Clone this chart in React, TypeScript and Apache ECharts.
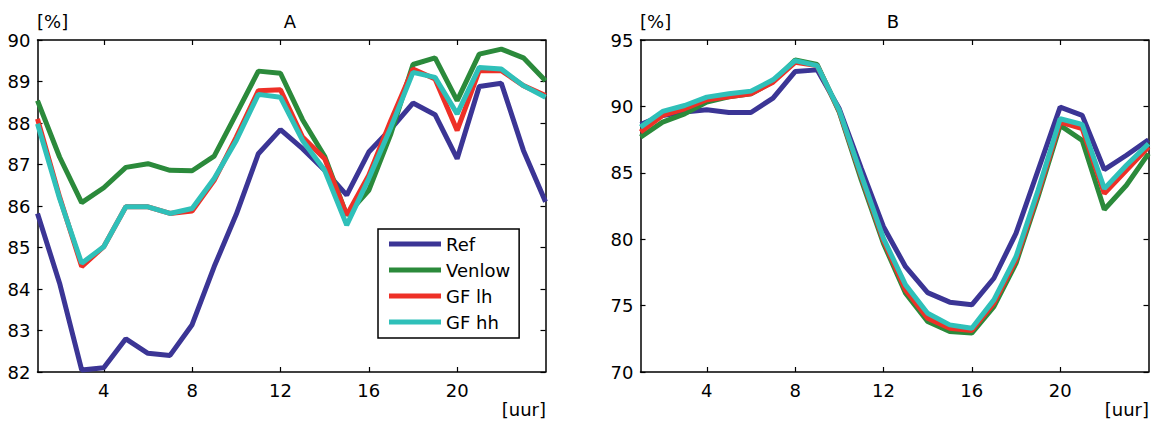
import React, { useEffect, useRef } from "react";
import * as echarts from "echarts";

// hours on the x axis
const HOURS = [1, 2, 3, 4, 5, 6, 7, 8, 9, 10, 11, 12, 13, 14, 15, 16, 17, 18, 19, 20, 21, 22, 23, 24];
const HOUR_TICKS = [4, 8, 12, 16, 20];

// panel A
const A_REF = [85.82, 84.14, 82.05, 82.1, 82.8, 82.45, 82.4, 83.14, 84.54, 85.8, 87.26, 87.84, 87.38, 86.86, 86.26, 87.3, 87.86, 88.48, 88.2, 87.14, 88.88, 88.96, 87.34, 86.1];
const A_VENLOW = [88.54, 87.18, 86.08, 86.44, 86.93, 87.02, 86.86, 86.85, 87.2, 88.22, 89.25, 89.2, 88.08, 87.2, 85.78, 86.38, 87.74, 89.41, 89.57, 88.54, 89.66, 89.78, 89.57, 89.02];
const A_GFLH = [88.1, 86.22, 84.54, 85.02, 85.98, 85.98, 85.82, 85.88, 86.62, 87.66, 88.78, 88.8, 87.66, 87.14, 85.78, 86.74, 88.06, 89.3, 89.06, 87.82, 89.26, 89.26, 88.9, 88.66];
const A_GFHH = [87.98, 86.18, 84.62, 85.02, 85.98, 85.98, 85.82, 85.94, 86.66, 87.58, 88.69, 88.62, 87.58, 86.86, 85.54, 86.66, 87.9, 89.22, 89.1, 88.22, 89.34, 89.3, 88.9, 88.62];

// panel B
const B_REF = [88.64, 89.32, 89.57, 89.74, 89.54, 89.54, 90.62, 92.62, 92.75, 89.82, 85.32, 80.94, 77.93, 75.98, 75.26, 75.06, 77.06, 80.44, 85.19, 89.94, 89.32, 85.24, 86.32, 87.49];
const B_VENLOW = [87.69, 88.82, 89.44, 90.32, 90.72, 90.95, 91.87, 93.5, 93.15, 89.57, 84.44, 79.68, 75.93, 73.8, 73.05, 72.93, 74.93, 78.18, 83.19, 88.57, 87.44, 82.24, 84.06, 86.44];
const B_GFLH = [88.07, 89.32, 89.82, 90.5, 90.72, 90.95, 91.82, 93.32, 93.07, 89.64, 84.69, 79.88, 76.18, 74.05, 73.3, 73.13, 75.18, 78.43, 83.44, 88.82, 88.32, 83.44, 85.19, 86.94];
const B_GFHH = [88.44, 89.62, 90.07, 90.7, 90.95, 91.15, 92.0, 93.45, 93.07, 89.7, 84.81, 80.06, 76.56, 74.43, 73.55, 73.3, 75.43, 78.68, 83.69, 89.07, 88.64, 83.81, 85.57, 87.19];

const NAMES = ["Ref", "Venlow", "GF lh", "GF hh"];
const COLORS = ["#3b3595", "#2b8a3b", "#ee3027", "#2fc0b9"];

const FONT = "DejaVu Sans";

const pairs = (vals: number[]) => HOURS.map((h, i) => [h, vals[i]]);

export default function App() {
  const ref = useRef<HTMLDivElement>(null);

  useEffect(() => {
    document.body.style.margin = "0";
    if (!ref.current) return;
    const chart = echarts.init(ref.current, undefined, { renderer: "svg" });

    const grids = [
      { left: 37.5, top: 40, width: 508, height: 332 },
      { left: 640.5, top: 40, width: 508, height: 332 },
    ];

    const frameLine = { show: true, onZero: false, lineStyle: { color: "#000", width: 1.5 } };
    const inTick = { show: true, inside: true, length: 5, lineStyle: { color: "#000", width: 1.2 } };
    const labelStyle = { color: "#000", fontFamily: FONT, fontSize: 18 };

    const xAxes: any[] = [];
    const yAxes: any[] = [];
    const yRanges = [
      { min: 82, max: 90, interval: 1 },
      { min: 70, max: 95, interval: 5 },
    ];
    grids.forEach((_, g) => {
      ["bottom", "top"].forEach((pos) => {
        xAxes.push({
          type: "value",
          gridIndex: g,
          position: pos,
          min: 1,
          max: 24,
          axisLine: frameLine,
          axisTick: { ...inTick, customValues: HOUR_TICKS },
          axisLabel: { ...labelStyle, show: pos === "bottom", margin: 9, customValues: HOUR_TICKS },
          splitLine: { show: false },
        });
      });
      ["left", "right"].forEach((pos) => {
        yAxes.push({
          type: "value",
          gridIndex: g,
          position: pos,
          ...yRanges[g],
          axisLine: frameLine,
          axisTick: inTick,
          axisLabel: { ...labelStyle, show: pos === "left", margin: 7 },
          splitLine: { show: false },
        });
      });
    });

    const panels = [
      [A_REF, A_VENLOW, A_GFLH, A_GFHH],
      [B_REF, B_VENLOW, B_GFLH, B_GFHH],
    ];
    const series: any[] = [];
    panels.forEach((sets, g) => {
      sets.forEach((vals, i) => {
        series.push({
          type: "line",
          name: NAMES[i],
          xAxisIndex: g * 2,
          yAxisIndex: g * 2,
          data: pairs(vals),
          showSymbol: false,
          color: COLORS[i],
          lineStyle: { width: 5, color: COLORS[i] },
          z: 3 + i,
        });
      });
    });

    const txt = (x: number, y: number, text: string, align: string) => ({
      type: "text",
      x,
      y,
      style: {
        text,
        fill: "#000",
        fontSize: 18,
        fontFamily: FONT,
        align,
        verticalAlign: "middle",
      },
    });

    chart.setOption({
      animation: false,
      backgroundColor: "#fff",
      grid: grids,
      xAxis: xAxes,
      yAxis: yAxes,
      series,
      legend: {
        data: NAMES,
        orient: "vertical",
        left: 378,
        top: 229,
        icon: "rect",
        itemWidth: 52,
        itemHeight: 5,
        itemGap: 6,
        padding: [5, 9, 6, 11],
        borderColor: "#000",
        borderWidth: 1.5,
        backgroundColor: "#fff",
        selectedMode: false,
        textStyle: { color: "#000", fontFamily: FONT, fontSize: 18, lineHeight: 20 },
        z: 10,
      },
      graphic: [
        txt(37, 21, "[%]", "left"),
        txt(290, 21, "A", "center"),
        txt(546, 409, "[uur]", "right"),
        txt(640, 21, "[%]", "left"),
        txt(893, 21, "B", "center"),
        txt(1149, 409, "[uur]", "right"),
      ],
    });

    return () => chart.dispose();
  }, []);

  return <div ref={ref} style={{ width: 1153, height: 421 }} />;
}
